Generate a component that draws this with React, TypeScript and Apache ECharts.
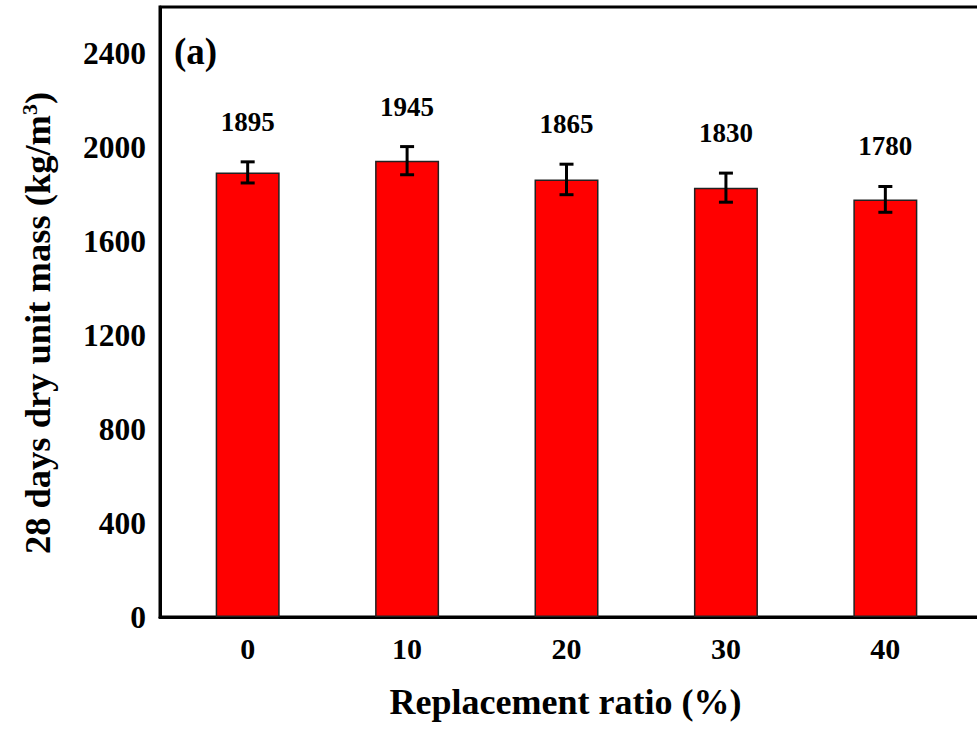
import React, { useEffect, useRef } from "react";
import * as echarts from "echarts";

const ratios = [0, 10, 20, 30, 40];
const unitMass = [1895, 1945, 1865, 1830, 1780];
const errors = [45, 60, 65, 62, 55];

const FONT = "'Liberation Serif', 'Times New Roman', serif";

export default function App() {
  const ref = useRef<HTMLDivElement>(null);
  useEffect(() => {
    if (!ref.current) return;
    const chart = echarts.init(ref.current, undefined, { renderer: "svg" });
    const barData = ratios.map((r, i) => [r, unitMass[i]]);
    const errData = ratios.map((r, i) => [r, unitMass[i], errors[i]]);
    chart.setOption({
      animation: false,
      backgroundColor: "#fff",
      title: {
        text: "(a)",
        left: 169,
        top: 28,
        textStyle: { fontFamily: FONT, fontWeight: "bold", fontSize: 37, color: "#000" },
      },
      grid: {
        left: 160,
        right: -4,
        top: 7,
        bottom: 112,
        show: true,
        borderColor: "#000",
        borderWidth: 3,
        containLabel: false,
        outerBoundsMode: "none",
      },
      xAxis: {
        type: "value",
        min: -5.5,
        max: 46,
        name: "Replacement ratio (%)",
        nameLocation: "middle",
        nameGap: 67,
        nameTextStyle: { fontFamily: FONT, fontWeight: "bold", fontSize: 36, color: "#000", padding: [0, 10, 0, 0] },
        axisLine: { show: true, onZero: false, lineStyle: { color: "#000", width: 3 } },
        axisTick: { show: false },
        splitLine: { show: false },
        axisLabel: {
          customValues: ratios,
          margin: 16,
          fontFamily: FONT,
          fontWeight: "bold",
          fontSize: 30,
          color: "#000",
        },
      },
      yAxis: {
        type: "value",
        min: 0,
        max: 2600,
        interval: 400,
        name: "28 days dry unit mass (kg/m{sup|3})",
        nameLocation: "middle",
        nameGap: 104,
        nameTextStyle: {
          fontFamily: FONT,
          fontWeight: "bold",
          fontSize: 36.5,
          color: "#000",
          padding: [0, 22, 0, 0],
          rich: {
            sup: {
              fontFamily: FONT,
              fontWeight: "bold",
              fontSize: 22,
              color: "#000",
              verticalAlign: "top",
              padding: [0, 0, 16, 0],
            },
          },
        },
        axisLine: { show: true, onZero: false, lineStyle: { color: "#000", width: 3 } },
        axisTick: { show: false },
        splitLine: { show: false },
        axisLabel: {
          margin: 14,
          fontFamily: FONT,
          fontWeight: "bold",
          fontSize: 31.5,
          color: "#000",
          formatter: (v: number) => (v > 2400 ? "" : String(v)),
        },
      },
      series: [
        {
          type: "bar",
          data: barData,
          barWidth: 64,
          itemStyle: { color: "#ff0000", borderColor: "#222", borderWidth: 1.5 },
        },
        {
          type: "custom",
          data: errData,
          z: 5,
          renderItem: (params: any, api: any) => {
            const x = api.value(0);
            const m = api.value(1);
            const e = api.value(2);
            const top = api.coord([x, m + e]);
            const bot = api.coord([x, m - e]);
            const cw = 7;
            const style = { stroke: "#000", lineWidth: 3 };
            return {
              type: "group",
              children: [
                { type: "line", shape: { x1: top[0], y1: top[1], x2: bot[0], y2: bot[1] }, style },
                { type: "line", shape: { x1: top[0] - cw, y1: top[1], x2: top[0] + cw, y2: top[1] }, style },
                { type: "line", shape: { x1: bot[0] - cw, y1: bot[1], x2: bot[0] + cw, y2: bot[1] }, style },
                {
                  type: "text",
                  x: top[0],
                  y: top[1] - 40,
                  style: {
                    text: String(m),
                    fontFamily: FONT,
                    fontWeight: "bold",
                    fontSize: 27,
                    fill: "#000",
                    align: "center",
                    verticalAlign: "middle",
                  },
                },
              ],
            };
          },
        },
      ],
    });
    return () => chart.dispose();
  }, []);
  return <div ref={ref} style={{ width: 977, height: 729, position: "absolute", left: 0, top: 0 }} />;
}
